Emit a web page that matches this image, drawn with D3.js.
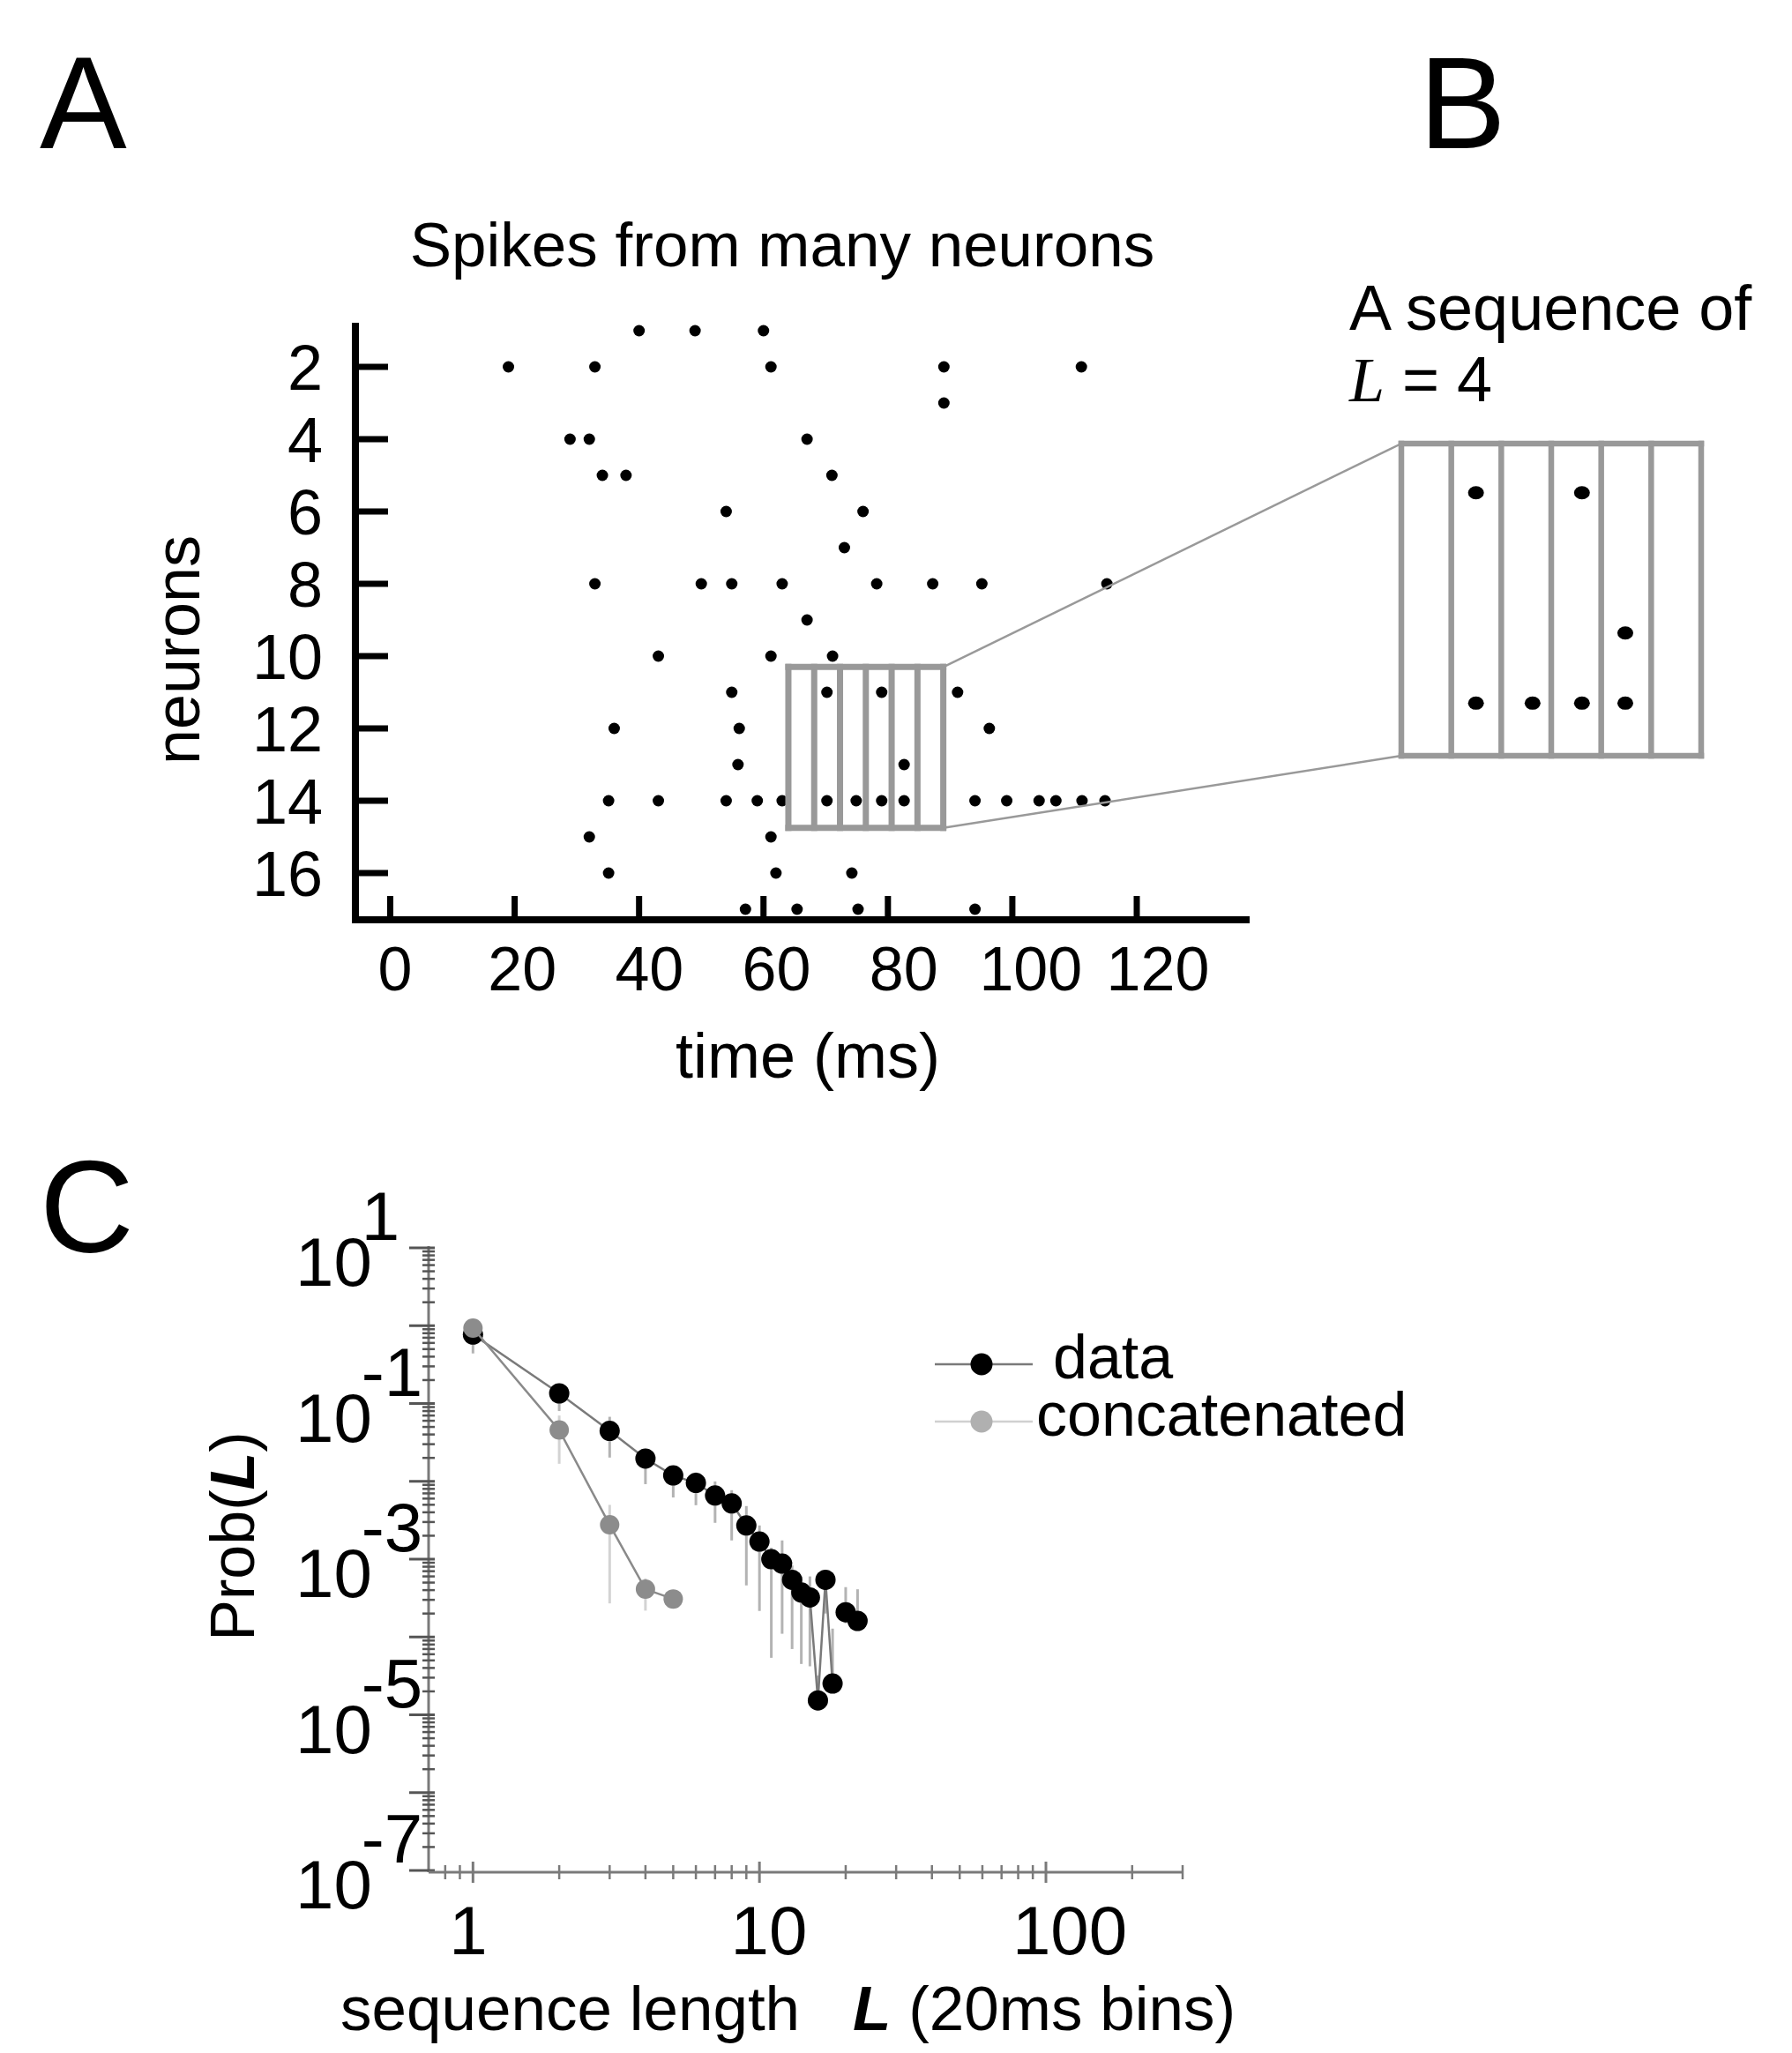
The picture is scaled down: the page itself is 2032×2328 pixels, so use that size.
<!DOCTYPE html>
<html>
<head>
<meta charset="utf-8">
<script src="https://cdn.jsdelivr.net/npm/d3@7"></script>
<style>
  body { margin: 0; background: #fff; }
  text { font-family: "Liberation Sans", Arial, sans-serif; fill: #000; }
</style>
</head>
<body>
<script>
// ---- panel A: spike raster (times in ms, one list per neuron 1..17)
var neuronTicks = [2, 4, 6, 8, 10, 12, 14, 16];
var timeTicks = [0, 20, 40, 60, 80, 100, 120];
var spikeTimes = [
  [40.0, 49.0, 60.0],
  [19.0, 32.9, 61.2, 89.0, 111.1],
  [89.0],
  [28.9, 32.0, 67.0],
  [34.1, 37.9, 71.0],
  [54.0, 76.0],
  [73.0],
  [32.9, 50.0, 54.9, 63.0, 78.2, 87.2, 95.1, 115.2],
  [67.0],
  [43.1, 61.2, 71.1],
  [54.9, 70.2, 79.0, 91.2],
  [36.0, 56.1, 96.3],
  [55.9, 82.6],
  [35.1, 43.1, 54.0, 59.0, 63.0, 70.2, 74.9, 79.0, 82.6, 94.0, 99.1, 104.3, 107.0, 111.2, 114.9],
  [32.0, 61.2],
  [35.1, 62.0, 74.2],
  [57.1, 65.4, 75.2, 94.0]
];

// ---- panel B: the window that is blown up (6 bins)
var boxStart = 64;
var binWidth = 4.15;
var nBins = 6;
var boxRows = [10.3, 14.75];

// ---- panel C: Prob(L)
var seqLength = [1, 2, 3, 4, 5, 6, 7, 8, 9, 10, 11, 12, 13, 14, 15, 16, 17, 18, 19, 20, 21, 22];
var dataProb = [0.77, 0.135, 0.0444, 0.0196, 0.0119, 0.00955, 0.00658, 0.0052, 0.00271, 0.00168,
  0.000997, 0.000875, 0.000542, 0.000373, 0.000322, 1.53e-5, 0.000542, 2.52e-5, null, 0.000208, null, 0.000161];
var dataHi = [1.0, 0.17, 0.0675, 0.0262, 0.0155, 0.013, 0.00997, 0.00769, 0.00481, 0.00271,
  0.0014, 0.00174, 0.00083, 0.0006, 0.0006, 3.2e-5, 0.00073, 0.000128, null, 0.000437, null, 0.00041];
var dataLo = [0.44, 0.08, 0.0202, 0.0092, 0.0062, 0.00493, 0.00293, 0.00174, 0.00046, 0.000216,
  5.4e-5, 0.00011, 7e-5, 4.5e-5, 4.2e-5, 1.53e-5, 0.0002, 2.52e-5, null, 0.00015, null, 0.00012];
var concLength = [1, 2, 3, 4, 5];
var concProb = [0.93, 0.0456, 0.00276, 0.000411, 0.000308];
var concHi = [1.0, 0.07, 0.00498, 0.000566, 0.000308];
var concLo = [0.9, 0.0168, 0.00027, 0.000218, 0.000308];
var probLabelExp = [1, -1, -3, -5, -7];
var lengthTicks = [1, 10, 100];

var svg = d3.select('body').append('svg').attr('width', 2032).attr('height', 2328);
svg.append('rect').attr('width', 2032).attr('height', 2328).attr('fill', '#fff');

// panel letters
svg.append('text').attr('x', 45).attr('y', 168).attr('font-size', 148).text('A');
svg.append('text').attr('x', 1609).attr('y', 168).attr('font-size', 148).text('B');
svg.append('text').attr('x', 45).attr('y', 1420).attr('font-size', 148).text('C');

// ================= panel A
var x = d3.scaleLinear().domain([0, 120]).range([442.5, 1289]);
var xLab = d3.scaleLinear().domain([0, 120]).range([448, 1313]);
var y = d3.scaleLinear().domain([2, 16]).range([416, 990]);

var spikes = [];
spikeTimes.forEach(function(ts, i) {
  ts.forEach(function(t) { spikes.push({ n: i + 1, t: t }); });
});

svg.append('text').attr('x', 887).attr('y', 302).attr('font-size', 71)
  .attr('text-anchor', 'middle').text('Spikes from many neurons');

var gA = svg.append('g');

// ticks
gA.selectAll('.yt').data(neuronTicks).enter().append('line')
  .attr('x1', 403).attr('x2', 440)
  .attr('y1', function(d) { return y(d); }).attr('y2', function(d) { return y(d); })
  .attr('stroke', '#000').attr('stroke-width', 7);
gA.selectAll('.yl').data(neuronTicks).enter().append('text')
  .attr('x', 366).attr('y', function(d) { return y(d) + 26; })
  .attr('text-anchor', 'end').attr('font-size', 72).text(function(d) { return d; });

gA.selectAll('.xt').data(timeTicks).enter().append('line')
  .attr('x1', function(d) { return x(d); }).attr('x2', function(d) { return x(d); })
  .attr('y1', 1016).attr('y2', 1043)
  .attr('stroke', '#000').attr('stroke-width', 7);
gA.selectAll('.xl').data(timeTicks).enter().append('text')
  .attr('x', function(d) { return xLab(d); }).attr('y', 1123)
  .attr('text-anchor', 'middle').attr('font-size', 70).text(function(d) { return d; });

// spines
gA.append('line').attr('x1', 403).attr('x2', 403).attr('y1', 366).attr('y2', 1047)
  .attr('stroke', '#000').attr('stroke-width', 8);
gA.append('line').attr('x1', 399).attr('x2', 1417).attr('y1', 1043).attr('y2', 1043)
  .attr('stroke', '#000').attr('stroke-width', 8);

svg.append('text').attr('x', 916).attr('y', 1222).attr('font-size', 72)
  .attr('text-anchor', 'middle').text('time (ms)');
svg.append('text').attr('transform', 'translate(226,737) rotate(-90)')
  .attr('font-size', 72).attr('text-anchor', 'middle').text('neurons');

// zoom window in A
var boxEnd = boxStart + nBins * binWidth;
var binEdges = d3.range(nBins + 1).map(function(i) { return boxStart + i * binWidth; });

// ================= panel B scales (magnified window)
var xB = d3.scaleLinear().domain([boxStart, boxEnd]).range([1589, 1929]);
var yB = d3.scaleLinear().domain(boxRows).range([503, 857]);

// connector lines
svg.append('line')
  .attr('x1', x(boxEnd)).attr('y1', y(boxRows[0])).attr('x2', xB(boxStart)).attr('y2', yB(boxRows[0]))
  .attr('stroke', '#999').attr('stroke-width', 2.5);
svg.append('line')
  .attr('x1', x(boxEnd)).attr('y1', y(boxRows[1])).attr('x2', xB(boxStart)).attr('y2', yB(boxRows[1]))
  .attr('stroke', '#999').attr('stroke-width', 2.5);

function drawBox(g, sx, sy, w) {
  g.selectAll('.edge').data(binEdges).enter().append('line')
    .attr('x1', function(d) { return sx(d); }).attr('x2', function(d) { return sx(d); })
    .attr('y1', sy(boxRows[0])).attr('y2', sy(boxRows[1]))
    .attr('stroke', '#999').attr('stroke-width', w).attr('stroke-linecap', 'square');
  g.selectAll('.hz').data(boxRows).enter().append('line')
    .attr('x1', sx(boxStart)).attr('x2', sx(boxEnd))
    .attr('y1', function(d) { return sy(d); }).attr('y2', function(d) { return sy(d); })
    .attr('stroke', '#999').attr('stroke-width', w).attr('stroke-linecap', 'square');
}
drawBox(svg.append('g'), x, y, 7);

gA.selectAll('.spk').data(spikes).enter().append('circle')
  .attr('cx', function(d) { return x(d.t); }).attr('cy', function(d) { return y(d.n); })
  .attr('r', 6.5).attr('fill', '#000');

// ================= panel B
svg.append('text').attr('x', 1530).attr('y', 374).attr('font-size', 72).text('A sequence of');
var lt = svg.append('text').attr('x', 1530).attr('y', 455).attr('font-size', 72);
lt.append('tspan').attr('font-family', '"Liberation Serif", "Times New Roman", serif')
  .attr('font-style', 'italic').text('L');
lt.append('tspan').text(' = 4');

drawBox(svg.append('g'), xB, yB, 6.5);
var inBox = spikes.filter(function(d) {
  return d.t > boxStart && d.t < boxEnd && d.n > boxRows[0] && d.n < boxRows[1];
});
svg.selectAll('.bspk').data(inBox).enter().append('ellipse')
  .attr('cx', function(d) { return xB(d.t); }).attr('cy', function(d) { return yB(d.n); })
  .attr('rx', 9).attr('ry', 7.5).attr('fill', '#000');

// ================= panel C
var xC = d3.scaleLog().domain([0.7, 300]).range([486, 1341]);
var xCLab = d3.scaleLog().domain([1, 100]).range([531, 1213]);
var yC = d3.scaleLog().domain([1e-7, 10]).range([2121, 1415]);
var gC = svg.append('g');
var axCol = '#7a7a7a';

// y axis
var yAxX = xC(0.7);
gC.append('line').attr('x1', yAxX).attr('x2', yAxX).attr('y1', yC(10) - 2).attr('y2', yC(1e-7) + 2)
  .attr('stroke', axCol).attr('stroke-width', 3);
var yMajor = d3.range(-7, 2).map(function(e) { return Math.pow(10, e); });
var yMinor = [];
d3.range(-7, 1).forEach(function(e) {
  d3.range(2, 10).forEach(function(m) { yMinor.push(m * Math.pow(10, e)); });
});
gC.selectAll('.ymaj').data(yMajor).enter().append('line')
  .attr('x1', yAxX - 22).attr('x2', yAxX + 7)
  .attr('y1', function(d) { return yC(d); }).attr('y2', function(d) { return yC(d); })
  .attr('stroke', '#555').attr('stroke-width', 3);
gC.selectAll('.ymin').data(yMinor).enter().append('line')
  .attr('x1', yAxX - 7).attr('x2', yAxX + 7)
  .attr('y1', function(d) { return yC(d); }).attr('y2', function(d) { return yC(d); })
  .attr('stroke', '#555').attr('stroke-width', 2.5);
var yl = gC.selectAll('.ylab').data(probLabelExp).enter().append('text')
  .attr('x', 335).attr('y', function(d) { return yC(Math.pow(10, d)) + 43; })
  .attr('font-size', 78);
yl.append('tspan').text('10');
yl.append('tspan').attr('dx', -12).attr('dy', -52).text(function(d) { return d; });

// x axis
var xAxY = yC(1e-7) + 2;
gC.append('line').attr('x1', xC(0.7)).attr('x2', xC(300)).attr('y1', xAxY).attr('y2', xAxY)
  .attr('stroke', axCol).attr('stroke-width', 3);
var xMinor = [0.8, 0.9];
[1, 10].forEach(function(dec) {
  d3.range(2, 10).forEach(function(m) { xMinor.push(m * dec); });
});
xMinor.push(200, 300);
gC.selectAll('.xmin').data(xMinor).enter().append('line')
  .attr('x1', function(d) { return xC(d); }).attr('x2', function(d) { return xC(d); })
  .attr('y1', xAxY - 8).attr('y2', xAxY + 8)
  .attr('stroke', axCol).attr('stroke-width', 2.5);
gC.selectAll('.xmaj').data(lengthTicks).enter().append('line')
  .attr('x1', function(d) { return xC(d); }).attr('x2', function(d) { return xC(d); })
  .attr('y1', xAxY - 12).attr('y2', xAxY + 12)
  .attr('stroke', axCol).attr('stroke-width', 3);
gC.selectAll('.xlab').data(lengthTicks).enter().append('text')
  .attr('x', function(d) { return xCLab(d); }).attr('y', 2216)
  .attr('text-anchor', 'middle').attr('font-size', 78).text(function(d) { return d; });

var xt = gC.append('text').attr('x', 386).attr('y', 2302).attr('font-size', 71);
xt.append('tspan').text('sequence length');
xt.append('tspan').attr('dx', 60).attr('font-weight', 'bold').attr('font-style', 'italic').text('L');
xt.append('tspan').text(' (20ms bins)');

var ytl = gC.append('text').attr('transform', 'translate(288,1742) rotate(-90)')
  .attr('font-size', 70).attr('text-anchor', 'middle');
ytl.append('tspan').text('Prob(');
ytl.append('tspan').attr('font-weight', 'bold').attr('font-style', 'italic').text('L');
ytl.append('tspan').text(')');

// series
function series(lens, prob, hi, lo, barCol, lineCol, dotCol, r) {
  var pts = lens.map(function(L, i) { return { L: L, p: prob[i], hi: hi[i], lo: lo[i] }; });
  var ok = pts.filter(function(d) { return d.p != null; });
  gC.selectAll(null).data(ok.filter(function(d) { return d.hi != null; })).enter().append('line')
    .attr('x1', function(d) { return xC(d.L); }).attr('x2', function(d) { return xC(d.L); })
    .attr('y1', function(d) { return yC(d.hi); }).attr('y2', function(d) { return yC(d.lo); })
    .attr('stroke', barCol).attr('stroke-width', 3);
  var line = d3.line().defined(function(d) { return d.p != null; })
    .x(function(d) { return xC(d.L); }).y(function(d) { return yC(d.p); });
  gC.append('path').datum(pts).attr('d', line)
    .attr('fill', 'none').attr('stroke', lineCol).attr('stroke-width', 2.5);
  gC.selectAll(null).data(ok).enter().append('circle')
    .attr('cx', function(d) { return xC(d.L); }).attr('cy', function(d) { return yC(d.p); })
    .attr('r', r).attr('fill', dotCol);
}
series(seqLength, dataProb, dataHi, dataLo, '#b3b3b3', '#7a7a7a', '#000', 11.5);
series(concLength, concProb, concHi, concLo, '#d3d3d3', '#8a8a8a', '#8c8c8c', 11);

// legend
var leg = [
  { name: 'data', line: '#7a7a7a', dot: '#000', y: 1547, tx: 1194 },
  { name: 'concatenated', line: '#d0d0d0', dot: '#b0b0b0', y: 1612, tx: 1175 }
];
var lg = gC.selectAll('.leg').data(leg).enter().append('g');
lg.append('line').attr('x1', 1060).attr('x2', 1171)
  .attr('y1', function(d) { return d.y; }).attr('y2', function(d) { return d.y; })
  .attr('stroke', function(d) { return d.line; }).attr('stroke-width', 2.5);
lg.append('circle').attr('cx', 1113).attr('cy', function(d) { return d.y; }).attr('r', 12.5)
  .attr('fill', function(d) { return d.dot; });
lg.append('text').attr('x', function(d) { return d.tx; }).attr('y', function(d) { return d.y + 16; })
  .attr('font-size', 70).text(function(d) { return d.name; });
</script>
</body>
</html>
